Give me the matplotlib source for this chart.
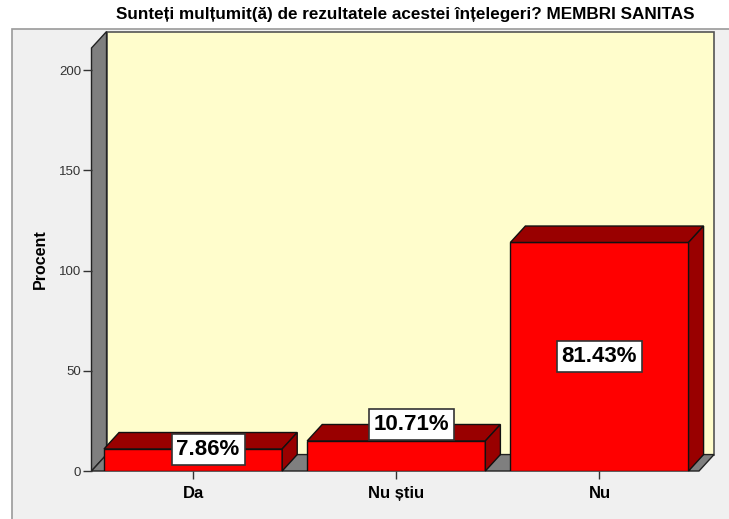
import matplotlib
matplotlib.use("Agg")
import matplotlib.pyplot as plt
from matplotlib.patches import Polygon, Rectangle

plt.rcParams["font.family"] = ["Liberation Sans", "DejaVu Sans"]

categories = ["Da", "Nu știu", "Nu"]
counts = [11, 15, 114]
total = sum(counts)
pct_labels = [f"{c / total * 100:.2f}%" for c in counts]
yticks = [0, 50, 100, 150, 200]
title = "Sunteți mulțumit(ă) de rezultatele acestei înțelegeri? MEMBRI SANITAS"

# 3d look
DX, DY = 0.074, 8.2
W = 0.877
XMIN, XMAX, YMAX = -0.5, 2.49, 211
RED, DARK = "#FF0000", "#990000"
GREY, YELLOW = "#7F7F7F", "#FFFDCC"

fig = plt.figure(figsize=(7.29, 5.19), dpi=100)
fig.patch.set_facecolor("white")
fig.patches.append(Rectangle((12 / 729, -0.1), 1.0, 1 - 29 / 519 + 0.1,
                             transform=fig.transFigure, facecolor="#F0F0F0",
                             edgecolor="#9A9A9A", lw=1.2, zorder=-1))

ax = fig.add_axes([91.5 / 729, 48 / 519, (699 - 91.5) / 729, (471 - 48) / 519])
ax.set_zorder(2)
ax.set_xlim(XMIN, XMAX)
ax.set_ylim(0, YMAX)
ax.patch.set_visible(False)
for s in ax.spines.values():
    s.set_visible(False)

# walls and floor
ax.add_patch(Rectangle((XMIN + DX, DY), XMAX - XMIN, YMAX, facecolor=YELLOW,
                       edgecolor="#555555", lw=1.2, clip_on=False, zorder=1))
ax.add_patch(Polygon([(XMIN, 0), (XMIN + DX, DY), (XMIN + DX, YMAX + DY), (XMIN, YMAX)],
                     facecolor=GREY, edgecolor="#222222", lw=1, clip_on=False, zorder=1))
ax.add_patch(Polygon([(XMIN, 0), (XMAX, 0), (XMAX + DX, DY), (XMIN + DX, DY)],
                     facecolor=GREY, edgecolor="#222222", lw=1, clip_on=False, zorder=1))

x = list(range(len(categories)))
ax.bar(x, counts, width=W, color=RED, edgecolor="#111111", lw=1, zorder=3)
for xi, h in zip(x, counts):
    l, r = xi - W / 2, xi + W / 2
    ax.add_patch(Polygon([(l, h), (r, h), (r + DX, h + DY), (l + DX, h + DY)],
                         facecolor=DARK, edgecolor="#111111", lw=1, zorder=3, clip_on=False))
    ax.add_patch(Polygon([(r, 0), (r + DX, DY), (r + DX, h + DY), (r, h)],
                         facecolor=DARK, edgecolor="#111111", lw=1, zorder=3, clip_on=False))

label_dx = [DX, DX, 0]
label_y = [counts[0] - 0.3, counts[1] + DY, counts[2] / 2]
for xi, t, dx, y in zip(x, pct_labels, label_dx, label_y):
    ax.text(xi + dx, y, t, ha="center", va="center", fontsize=16, fontweight="bold",
            zorder=5, bbox=dict(boxstyle="square,pad=0.22", facecolor="white",
                                edgecolor="#333333", lw=1.2))

ax.set_yticks(yticks)
ax.set_yticklabels([str(v) for v in yticks], fontsize=9.5, color="#333333")
ax.set_xticks(x)
ax.set_xticklabels(categories, fontsize=12, fontweight="bold")
ax.tick_params(axis="y", direction="out", length=6.5, width=1, color="#333333", pad=1)
ax.tick_params(axis="x", direction="out", length=6, width=1, color="#333333", pad=5)
ax.set_ylabel("Procent", fontsize=11.5, fontweight="bold", labelpad=8)

fig.text(405 / 729, 1 - 14 / 519, title, ha="center", va="center",
         fontsize=12.3, fontweight="bold")

fig.savefig("out.png", dpi=100)
